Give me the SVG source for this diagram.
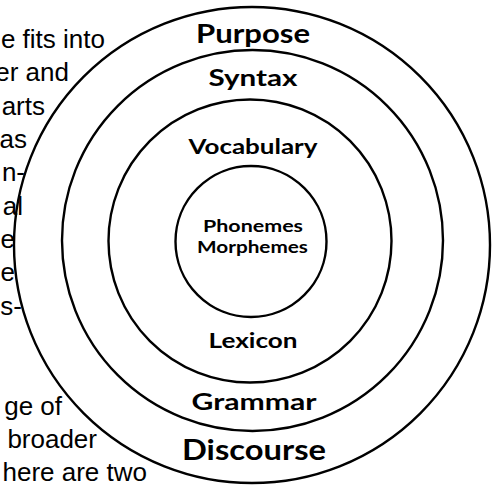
<svg xmlns="http://www.w3.org/2000/svg" width="498" height="485" viewBox="0 0 498 485">
<style>
.ring{fill:none;stroke:#000;stroke-width:2.4}
.lbl{font-family:Lato,"DejaVu Sans",sans-serif;font-weight:700;fill:#000;text-anchor:middle}
.body{font-family:"Liberation Sans",Arial,sans-serif;font-size:26px;fill:#000;text-anchor:end}
</style>
<rect width="498" height="485" fill="#fff"/>
<g id="body-text">
<text class="body" x="105" y="48">e fits into</text>
<text class="body" x="69" y="81">er and</text>
<text class="body" x="45" y="115">arts</text>
<text class="body" x="27" y="148">as</text>
<text class="body" x="25" y="181">n-</text>
<text class="body" x="23" y="215">al</text>
<text class="body" x="15" y="248">e</text>
<text class="body" x="15" y="281">e</text>
<text class="body" x="22" y="315">s-</text>
<text class="body" x="62" y="415">ge of</text>
<text class="body" x="97" y="448">broader</text>
<text class="body" x="147" y="481">here are two</text>
</g>
<g id="discourse-ring">
<circle class="ring" cx="252" cy="245" r="238"/>
<text class="lbl" x="253" y="43" font-size="27" textLength="114" lengthAdjust="spacingAndGlyphs">Purpose</text>
<text class="lbl" x="254" y="460" font-size="28" textLength="144" lengthAdjust="spacingAndGlyphs">Discourse</text>
</g>
<g id="grammar-ring">
<circle class="ring" cx="252.5" cy="240.5" r="190.5"/>
<text class="lbl" x="253" y="86" font-size="23" textLength="89" lengthAdjust="spacingAndGlyphs">Syntax</text>
<text class="lbl" x="254" y="410" font-size="23" textLength="125" lengthAdjust="spacingAndGlyphs">Grammar</text>
</g>
<g id="lexicon-ring">
<circle class="ring" cx="250" cy="241" r="141.5"/>
<text class="lbl" x="253" y="154" font-size="20" textLength="129" lengthAdjust="spacingAndGlyphs">Vocabulary</text>
<text class="lbl" x="253" y="348" font-size="20" textLength="89" lengthAdjust="spacingAndGlyphs">Lexicon</text>
</g>
<g id="core-ring">
<circle class="ring" cx="251" cy="241.5" r="75.5"/>
<text class="lbl" x="253" y="232" font-size="17" textLength="100" lengthAdjust="spacingAndGlyphs">Phonemes</text>
<text class="lbl" x="252.5" y="253" font-size="17" textLength="111" lengthAdjust="spacingAndGlyphs">Morphemes</text>
</g>
<g id="connectors"/>
</svg>
